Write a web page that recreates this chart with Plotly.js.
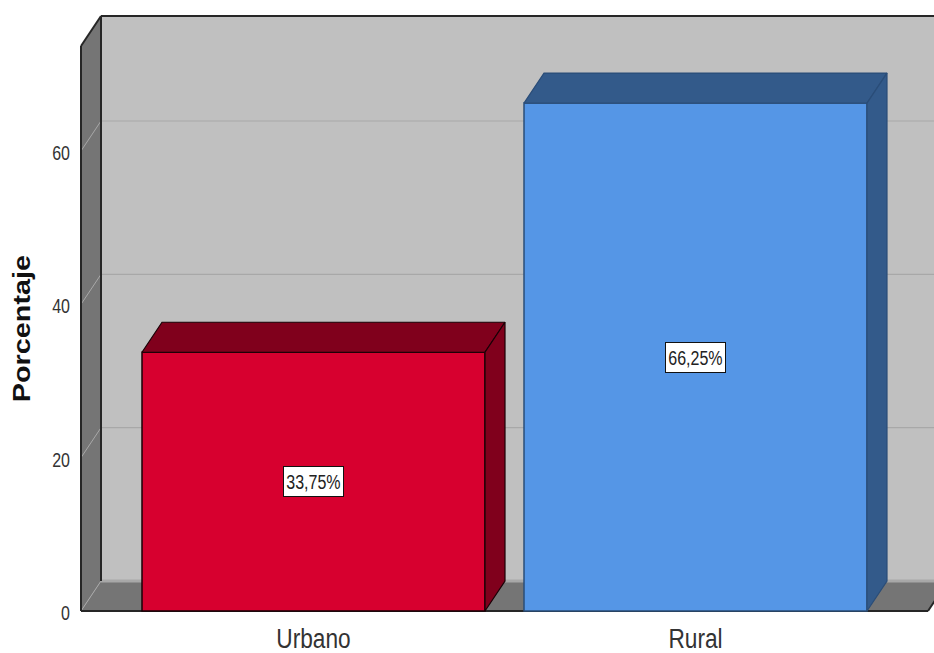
<!DOCTYPE html>
<html>
<head>
<meta charset="utf-8">
<script src="https://cdn.plot.ly/plotly-3.0.1.min.js"></script>
<style>html,body{margin:0;padding:0;background:#fff}#chart{width:934px;height:653px}</style>
</head>
<body>
<div id="chart"></div>
<script>
// Data
const categories = ['Urbano', 'Rural'];
const values = [33.75, 66.25];
const frontColors = ['#d7002f', '#5596e6'];
const sideColors = ['#80001c', '#335a8a'];
const edgeColors = ['#1a0006', '#2a4d78'];
const yTicks = [0, 20, 40, 60];
const yTitle = 'Porcentaje';

// Scale set-up (pixels per data unit, and the 3D depth of the box)
const W = 934, H = 653, mL = 79, mT = 14, mB = 40;
const pxX = 382, pxY = 7.667;
const cx0 = 313.5;
const depthX = 20 / pxX, depthY = 30 / pxY;
const barW = 343 / pxX;
const xRange = [(mL - cx0) / pxX, (W - cx0) / pxX];
const yRange = [-(H - mB - 611) / pxY, (611 - mT) / pxY];
const xFront = [(81 - cx0) / pxX, (928 - cx0) / pxX];
const yFrontTop = (611 - 46) / pxY;
const idx = categories.map((_, i) => i);
const FONT = 'Liberation Sans, Arial, sans-serif';

const path = pts => 'M' + pts.map(p => p[0] + ',' + p[1]).join(' L') + ' Z';
const poly = (pts, fill, line, w) => ({
  type: 'path', xref: 'x', yref: 'y', layer: 'below', path: path(pts),
  fillcolor: fill, line: {color: line, width: w}
});
const seg = (a, b, color, w) => ({
  type: 'line', xref: 'x', yref: 'y', layer: 'below',
  x0: a[0], y0: a[1], x1: b[0], y1: b[1], line: {color: color, width: w}
});

const L = xFront[0], R = xFront[1], bx = depthX, by = depthY, T = yFrontTop;
const shapes = [
  poly([[L + bx, by], [R + bx, by], [R + bx, T + by], [L + bx, T + by]], '#c0c0c0', '#c0c0c0', 0),
  poly([[L, 0], [L + bx, by], [L + bx, T + by], [L, T]], '#757575', '#757575', 0),
  poly([[L, 0], [R, 0], [R + bx, by], [L + bx, by]], '#757575', '#757575', 0)
];
yTicks.forEach(v => {
  shapes.push(seg([L + bx, v + by], [R + bx, v + by], '#a8a8a8', v === 0 ? 3 : 1.2));
  shapes.push(seg([L, v], [L + bx, v + by], '#a8a8a8', 1));
});
shapes.push(seg([L, 0], [L, T], '#262626', 2));
shapes.push(seg([L + bx, by], [L + bx, T + by], '#262626', 2));
shapes.push(seg([L, T], [L + bx, T + by], '#262626', 2));
shapes.push(seg([L + bx, T + by], [R + bx, T + by], '#262626', 2));
shapes.push(seg([L, 0], [R, 0], '#262626', 2));
shapes.push(seg([R, 0], [R + bx, by], '#262626', 2));

const traces = [{
  type: 'bar', x: idx, y: values, width: barW, hoverinfo: 'skip',
  marker: {color: frontColors, line: {color: edgeColors, width: 1.5}}
}];
idx.forEach(i => {
  const l = i - barW / 2, r = i + barW / 2, v = values[i];
  const lineOpt = {color: edgeColors[i], width: 1.2};
  traces.push({
    type: 'scatter', mode: 'lines', fill: 'toself', fillcolor: sideColors[i], line: lineOpt,
    x: [l, r, r + bx, l + bx, l], y: [v, v, v + by, v + by, v], hoverinfo: 'skip'
  });
  traces.push({
    type: 'scatter', mode: 'lines', fill: 'toself', fillcolor: sideColors[i], line: lineOpt,
    x: [r, r + bx, r + bx, r, r], y: [0, by, v + by, v, 0], hoverinfo: 'skip'
  });
});

const annotations = idx.map(i => ({
  x: i, y: values[i] / 2, xref: 'x', yref: 'y', showarrow: false,
  text: values[i].toFixed(2).replace('.', ',') + '%',
  font: {family: FONT, size: 20, color: '#222'},
  width: 55, height: 25,
  bgcolor: '#fff', bordercolor: '#111', borderwidth: 1, borderpad: 2
}));
annotations.push({
  xref: 'paper', yref: 'paper', x: (21 - mL) / (W - mL), y: (H - mB - 329) / (H - mB - mT),
  xanchor: 'center', yanchor: 'middle', showarrow: false, textangle: -90,
  text: yTitle,
  font: {family: FONT, size: 24, color: '#111', weight: 700}
});

const layout = {
  width: W, height: H, showlegend: false,
  margin: {l: mL, r: 0, t: mT, b: mB, pad: 0},
  paper_bgcolor: '#fff', plot_bgcolor: '#fff',
  xaxis: {
    range: xRange, tickmode: 'array', tickvals: idx, ticktext: categories,
    showgrid: false, zeroline: false, showline: false, ticks: '', ticklabelstandoff: 5,
    tickfont: {family: FONT, size: 27, color: '#333'}
  },
  yaxis: {
    range: yRange, tickmode: 'array', tickvals: yTicks,
    showgrid: false, zeroline: false, showline: false, ticks: '', ticklabelstandoff: 8,
    tickfont: {family: FONT, size: 20, color: '#333'}
  },
  shapes: shapes, annotations: annotations
};

// The source image is squeezed horizontally: scale glyph widths along the text run.
function fit(el, factor, dy) {
  const n = el.getComputedTextLength();
  el.setAttribute('textLength', (n * factor).toFixed(1));
  el.setAttribute('lengthAdjust', 'spacingAndGlyphs');
  if (dy) el.setAttribute('dy', dy);
}
Plotly.newPlot('chart', traces, layout, {displayModeBar: false, staticPlot: true}).then(gd => {
  gd.querySelectorAll('.xtick text').forEach(t => fit(t, 0.84, 2));
  gd.querySelectorAll('.ytick text').forEach(t => fit(t, 0.8, 2));
  gd.querySelectorAll('.annotation-text').forEach(t => {
    const title = t.textContent === yTitle;
    fit(t, title ? 1.2 : 0.8);
  });
});
</script>
</body>
</html>
